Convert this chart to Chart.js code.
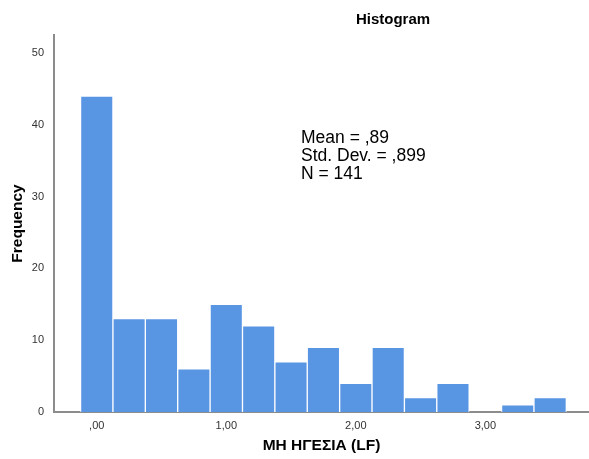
<!DOCTYPE html>
<html>
<head>
<meta charset="utf-8">
<script src="https://cdn.jsdelivr.net/npm/chart.js@4"></script>
<style>
  html, body { margin: 0; padding: 0; background: #fff; }
  #wrap { width: 589px; height: 459px; }
</style>
</head>
<body>
<div id="wrap"><canvas id="myChart" width="589" height="459"></canvas></div>
<script>
// histogram data (bin centers, width 0,25)
var binCenters = [0, 0.25, 0.5, 0.75, 1, 1.25, 1.5, 1.75, 2, 2.25, 2.5, 2.75, 3, 3.25, 3.5];
var frequencies = [44, 13, 13, 6, 15, 12, 7, 9, 4, 9, 2, 4, 0, 1, 2];
var xTickValues = [0, 1, 2, 3];
var xTickLabels = [',00', '1,00', '2,00', '3,00'];
var yTickValues = [0, 10, 20, 30, 40, 50];
var statLines = ['Mean = ,89', 'Std. Dev. = ,899', 'N = 141'];
var chartTitle = 'Histogram';

var axisColor = '#8c8c8c';
var font = "'Liberation Sans', Arial, sans-serif";

// title + stats box drawn on top
var textPlugin = {
    id: 'spssText',
    afterDraw: function(chart) {
        var ctx = chart.ctx;
        ctx.save();
        ctx.fillStyle = '#000';
        ctx.textBaseline = 'middle';
        ctx.textAlign = 'center';
        ctx.font = 'bold 15px ' + font;
        ctx.fillText(chartTitle, 393, 20);
        ctx.textAlign = 'left';
        ctx.font = '17.5px ' + font;
        statLines.forEach(function(line, i) {
            ctx.fillText(line, 301, 138 + i * 18);
        });
        ctx.restore();
    }
};

var ctx = document.getElementById('myChart');
var myChart = new Chart(ctx, {
    type: 'bar',
    data: {
        datasets: [{
            data: binCenters.map(function(x, i) { return {x: x, y: frequencies[i]}; }),
            backgroundColor: '#5895e3',
            borderColor: '#ffffff',
            borderWidth: 1,
            barPercentage: 1,
            categoryPercentage: 1
        }]
    },
    options: {
        responsive: false,
        animation: false,
        layout: { padding: { top: 35, right: 0, left: 0, bottom: 0 } },
        plugins: {
            legend: { display: false },
            tooltip: { enabled: false }
        },
        scales: {
            x: {
                type: 'linear',
                min: -0.33,
                max: 3.8,
                offset: false,
                grid: { display: false, drawTicks: false },
                border: { display: true, color: axisColor, width: 2 },
                afterBuildTicks: function(axis) {
                    axis.ticks = xTickValues.map(function(v) { return {value: v}; });
                },
                afterFit: function(axis) { axis.height = 47; },
                ticks: {
                    padding: 7,
                    color: '#333',
                    font: { family: font, size: 11 },
                    maxRotation: 0,
                    callback: function(value) {
                        var i = xTickValues.indexOf(value);
                        return i >= 0 ? xTickLabels[i] : '';
                    }
                },
                title: {
                    display: true,
                    text: 'ΜΗ ΗΓΕΣΙΑ (LF)',
                    color: '#000',
                    font: { family: font, size: 15.5, weight: 'bold' },
                    padding: { top: 14 }
                }
            },
            y: {
                min: 0,
                max: 52.5,
                grid: { display: false, drawTicks: false },
                border: { display: true, color: axisColor, width: 2 },
                afterBuildTicks: function(axis) {
                    axis.ticks = yTickValues.map(function(v) { return {value: v}; });
                },
                afterFit: function(axis) { axis.width = 54; },
                ticks: {
                    padding: 10,
                    color: '#333',
                    font: { family: font, size: 11 }
                },
                title: {
                    display: true,
                    text: 'Frequency',
                    color: '#000',
                    font: { family: font, size: 15.5, weight: 'bold' },
                    padding: { top: 8, bottom: 0 }
                }
            }
        }
    },
    plugins: [textPlugin]
});
</script>
</body>
</html>
